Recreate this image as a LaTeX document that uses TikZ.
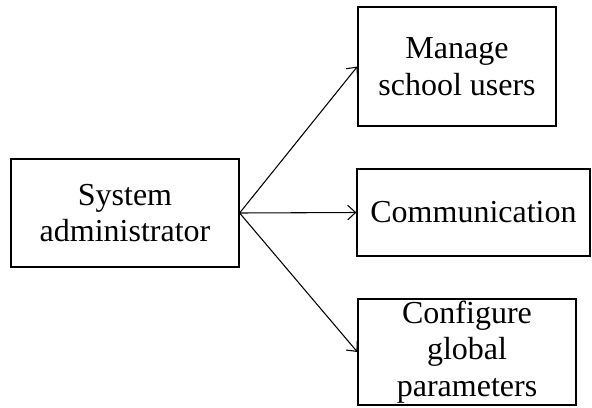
\documentclass[tikz,border=0pt]{standalone}
\usepackage{fontspec}
\setmainfont{Liberation Serif}
\usetikzlibrary{arrows.meta}
\tikzset{
  box/.style={draw, line width=0.9pt, rectangle, align=center, inner sep=0pt,
    font=\fontsize{24}{27.5}\selectfont},
  link/.style={-{Straight Barb[length=6pt,width=11pt]}, line width=0.8pt}
}
\begin{document}
\begin{tikzpicture}[x=0.75pt,y=-0.75pt]
\useasboundingbox (0,0) rectangle (592,407);
\node[box, minimum width=0.75*228pt, minimum height=0.75*108pt] (admin) at (125,213) {System\\administrator};
\node[box, minimum width=0.75*198pt, minimum height=0.75*119pt] (users) at (457,66.5) {Manage\\school users};
\node[box, minimum width=0.75*233pt, minimum height=0.75*87pt] (comm) at (473.5,212.5) {Communication};
\node[box, minimum width=0.75*218pt, minimum height=0.75*106pt] (config) at (467,352) {Configure\\global\\parameters};
\draw[link] (admin.east) -- (users.west);
\draw[link] (admin.east) -- (comm.west);
\draw[link] (admin.east) -- (config.west);
\end{tikzpicture}
\end{document}
